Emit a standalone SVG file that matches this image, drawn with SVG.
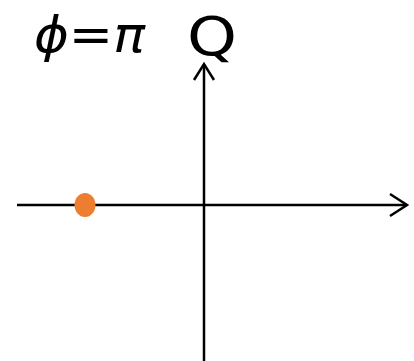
<svg xmlns="http://www.w3.org/2000/svg" width="414" height="361" viewBox="0 0 414 361">
<style>
.ax{stroke:#000;stroke-width:2.5;fill:none}
.t{font-family:"DejaVu Sans","Liberation Sans",sans-serif;fill:#000}
</style>
<rect width="414" height="361" fill="#fff"/>
<g id="connectors">
<line class="ax" x1="17" y1="205" x2="407" y2="205"/>
<polyline class="ax" points="390,194 407,205 390,216"/>
<line class="ax" x1="204" y1="361" x2="204" y2="64"/>
<polyline class="ax" points="194,80 204,64 214,80"/>
</g>
<g id="dot"><ellipse cx="85" cy="205" rx="10.5" ry="12" fill="#ED7D31"/></g>
<g id="label-phi"><text class="t" x="34" y="52" font-size="50" textLength="111" lengthAdjust="spacingAndGlyphs"><tspan font-style="italic">ϕ</tspan>=<tspan font-style="italic">π</tspan></text></g>
<g id="label-Q"><text class="t" x="187" y="55" font-size="54" textLength="50" lengthAdjust="spacingAndGlyphs">Q</text></g>
</svg>
